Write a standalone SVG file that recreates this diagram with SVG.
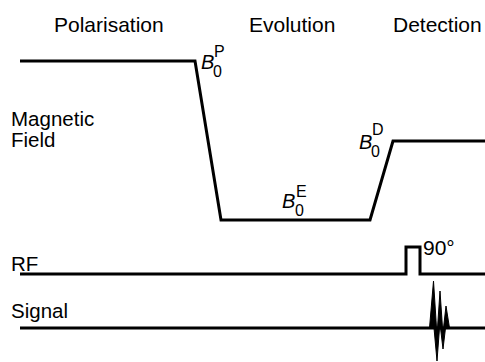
<svg xmlns="http://www.w3.org/2000/svg" width="485" height="362" viewBox="0 0 485 362">
<style>
text{font-family:"Liberation Sans",Arial,sans-serif;fill:#000}
.h{font-size:21px}
.l{font-size:20.5px}
.b{font-size:20px;font-style:italic}
.s{font-size:16px}
.w{fill:none;stroke:#000;stroke-width:3;stroke-linejoin:miter}
.spike{fill:#000;stroke:#000;stroke-width:1;stroke-linejoin:miter;stroke-miterlimit:20}
</style>
<rect width="485" height="362" fill="#fff"/>
<g id="headers">
<text class="h" x="54" y="32">Polarisation</text>
<text class="h" x="249" y="32">Evolution</text>
<text class="h" x="393" y="32">Detection</text>
</g>
<g id="row-labels">
<text class="l" x="11" y="126">Magnetic</text>
<text class="l" x="11" y="147">Field</text>
<text class="l" x="11" y="271">RF</text>
<text class="l" x="11" y="318">Signal</text>
</g>
<g id="connectors">
<polyline id="field" class="w" points="20,61 195,61 221,220 370,220 393,141 485,141"/>
<polyline id="rf" class="w" points="20,274 406,274 406,247 420,247 420,274 485,274"/>
<polyline id="signal" class="w" points="20,328 485,328"/>
<path id="burst" class="spike" d="M429.5,328 L433.5,281 L436.5,328 Z M434,328 L437,361 L439.5,328 Z M437.5,328 L440,291 L442.5,328 Z M440.5,328 L443,349 L445.5,328 Z M443.5,328 L446,306 L449.5,328 Z"/>
</g>
<g id="label-BP">
<text class="b" x="201" y="69">B</text><text class="s" x="213" y="77">0</text><text class="s" x="214" y="57">P</text>
</g>
<g id="label-BE">
<text class="b" x="282" y="208">B</text><text class="s" x="295" y="216">0</text><text class="s" x="296" y="197">E</text>
</g>
<g id="label-BD">
<text class="b" x="359" y="149">B</text><text class="s" x="371" y="157">0</text><text class="s" x="372" y="135">D</text>
</g>
<g id="label-90">
<text class="h" x="423" y="255">90°</text>
</g>
</svg>
